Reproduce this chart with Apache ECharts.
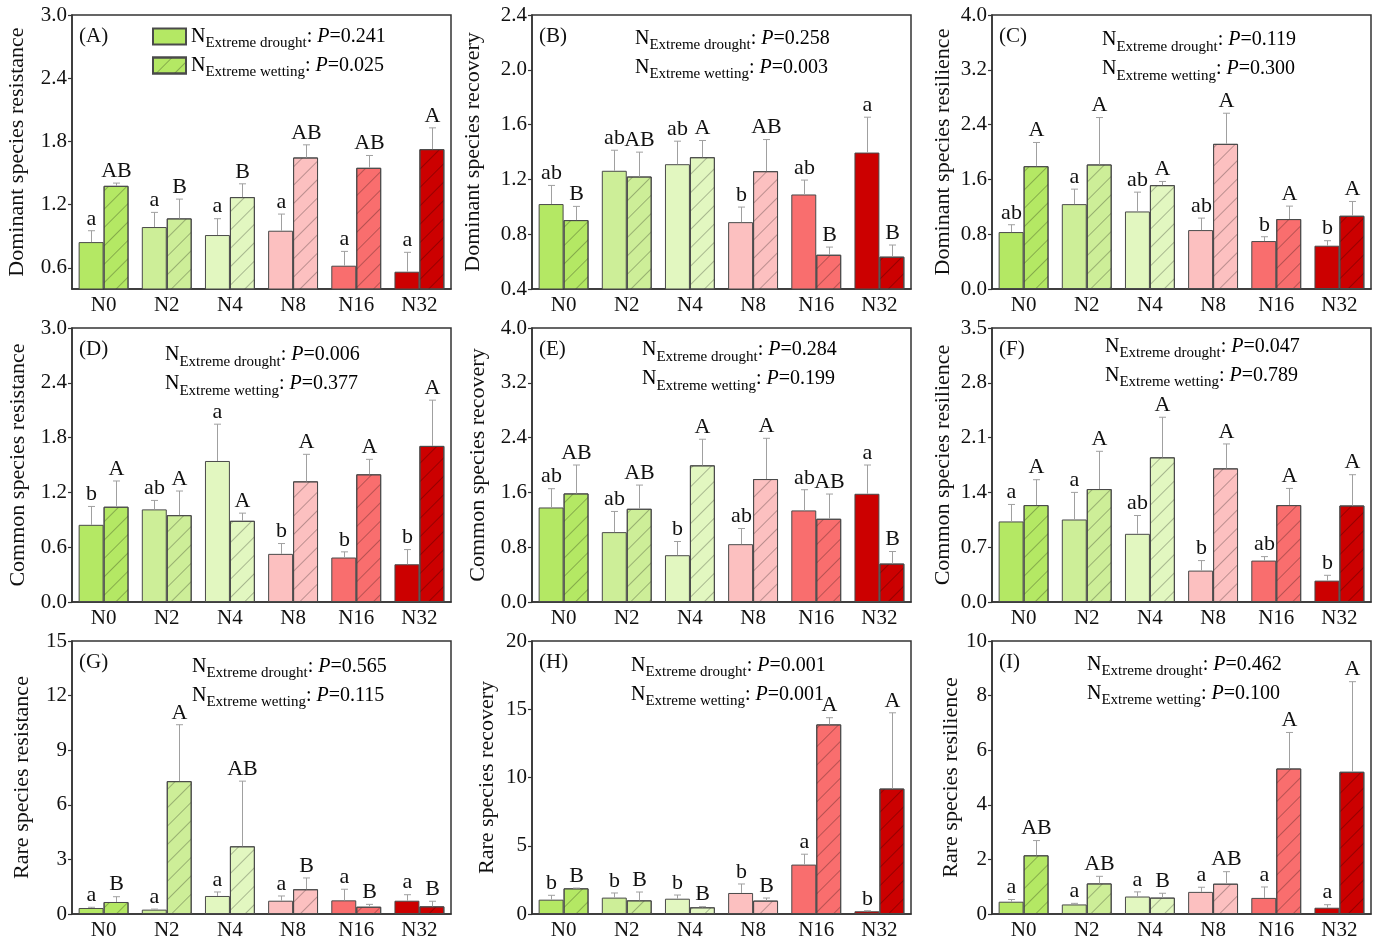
<!DOCTYPE html>
<html>
<head>
<meta charset="utf-8">
<script src="https://cdn.jsdelivr.net/npm/echarts@6/dist/echarts.min.js"></script>
<style>html,body{margin:0;padding:0;background:#fff}#chart{width:1384px;height:943px}</style>
</head>
<body>
<div id="chart"></div>
<script>
// ---------------- data ----------------
const categories = ['N0', 'N2', 'N4', 'N8', 'N16', 'N32'];

const A_droughtMean = [0.845, 0.988, 0.912, 0.953, 0.621, 0.564];
const A_droughtSE   = [0.108, 0.139, 0.155, 0.158, 0.136, 0.184];
const A_wettingMean = [1.379, 1.070, 1.272, 1.648, 1.550, 1.727];
const A_wettingSE   = [0.026, 0.183, 0.126, 0.120, 0.117, 0.202];
const A_droughtLetters = ['a', 'a', 'a', 'a', 'a', 'a'];
const A_wettingLetters = ['AB', 'B', 'B', 'AB', 'AB', 'A'];

const B_droughtMean = [1.020, 1.263, 1.311, 0.888, 1.090, 1.396];
const B_droughtSE   = [0.136, 0.150, 0.168, 0.110, 0.105, 0.258];
const B_wettingMean = [0.903, 1.221, 1.362, 1.260, 0.650, 0.636];
const B_wettingSE   = [0.100, 0.178, 0.122, 0.231, 0.056, 0.085];
const B_droughtLetters = ['ab', 'ab', 'ab', 'b', 'ab', 'a'];
const B_wettingLetters = ['B', 'AB', 'A', 'AB', 'B', 'B'];

const C_droughtMean = [0.831, 1.239, 1.132, 0.860, 0.700, 0.632];
const C_droughtSE   = [0.107, 0.219, 0.282, 0.175, 0.063, 0.073];
const C_wettingMean = [1.793, 1.818, 1.516, 2.119, 1.021, 1.069];
const C_wettingSE   = [0.346, 0.685, 0.054, 0.447, 0.189, 0.209];
const C_droughtLetters = ['ab', 'a', 'ab', 'ab', 'b', 'b'];
const C_wettingLetters = ['A', 'A', 'A', 'A', 'A', 'A'];

const D_droughtMean = [0.845, 1.014, 1.544, 0.527, 0.487, 0.413];
const D_droughtSE   = [0.201, 0.098, 0.403, 0.113, 0.062, 0.161];
const D_wettingMean = [1.043, 0.951, 0.889, 1.321, 1.398, 1.709];
const D_wettingSE   = [0.282, 0.264, 0.084, 0.296, 0.164, 0.501];
const D_droughtLetters = ['b', 'ab', 'a', 'b', 'b', 'b'];
const D_wettingLetters = ['A', 'A', 'A', 'A', 'A', 'A'];

const E_droughtMean = [1.380, 1.020, 0.683, 0.844, 1.337, 1.580];
const E_droughtSE   = [0.274, 0.302, 0.200, 0.229, 0.302, 0.420];
const E_wettingMean = [1.585, 1.361, 1.995, 1.795, 1.215, 0.561];
const E_wettingSE   = [0.415, 0.346, 0.381, 0.595, 0.361, 0.176];
const E_droughtLetters = ['ab', 'ab', 'b', 'ab', 'ab', 'a'];
const E_wettingLetters = ['AB', 'AB', 'A', 'A', 'AB', 'B'];

const F_droughtMean = [1.029, 1.054, 0.871, 0.401, 0.529, 0.273];
const F_droughtSE   = [0.217, 0.346, 0.234, 0.128, 0.051, 0.068];
const F_wettingMean = [1.238, 1.443, 1.848, 1.707, 1.238, 1.233];
const F_wettingSE   = [0.324, 0.482, 0.512, 0.312, 0.213, 0.393];
const F_droughtLetters = ['a', 'a', 'ab', 'b', 'ab', 'b'];
const F_wettingLetters = ['A', 'A', 'A', 'A', 'A', 'A'];

const G_droughtMean = [0.33, 0.24, 0.99, 0.73, 0.75, 0.73];
const G_droughtSE   = [0.04, 0.03, 0.22, 0.26, 0.61, 0.33];
const G_wettingMean = [0.66, 7.30, 3.72, 1.36, 0.40, 0.42];
const G_wettingSE   = [0.29, 3.10, 3.58, 0.62, 0.13, 0.28];
const G_droughtLetters = ['a', 'a', 'a', 'a', 'a', 'a'];
const G_wettingLetters = ['B', 'A', 'AB', 'B', 'B', 'B'];

const H_droughtMean = [1.05, 1.20, 1.12, 1.54, 3.62, 0.20];
const H_droughtSE   = [0.32, 0.34, 0.27, 0.66, 0.76, 0.04];
const H_wettingMean = [1.88, 1.00, 0.49, 0.98, 13.89, 9.19];
const H_wettingSE   = [0.02, 0.61, 0.05, 0.19, 0.49, 5.55];
const H_droughtLetters = ['b', 'b', 'b', 'b', 'a', 'b'];
const H_wettingLetters = ['B', 'B', 'B', 'B', 'A', 'A'];

const I_droughtMean = [0.45, 0.35, 0.64, 0.81, 0.59, 0.23];
const I_droughtSE   = [0.08, 0.04, 0.17, 0.17, 0.40, 0.11];
const I_wettingMean = [2.15, 1.12, 0.60, 1.11, 5.33, 5.21];
const I_wettingSE   = [0.54, 0.26, 0.16, 0.44, 1.32, 3.30];
const I_droughtLetters = ['a', 'a', 'a', 'a', 'a', 'a'];
const I_wettingLetters = ['AB', 'AB', 'B', 'AB', 'A', 'A'];

const panelLabels = ['(A)', '(B)', '(C)', '(D)', '(E)', '(F)', '(G)', '(H)', '(I)'];
const yAxisNames = [
  'Dominant species resistance', 'Dominant species recovery', 'Dominant species resilience',
  'Common species resistance', 'Common species recovery', 'Common species resilience',
  'Rare species resistance', 'Rare species recovery', 'Rare species resilience'
];
const pDrought = ['0.241', '0.258', '0.119', '0.006', '0.284', '0.047', '0.565', '0.001', '0.462'];
const pWetting = ['0.025', '0.003', '0.300', '0.377', '0.199', '0.789', '0.115', '0.001', '0.100'];
const yMin  = [0.4, 0.4, 0, 0, 0, 0, 0, 0, 0];
const yMax  = [3.0, 2.4, 4.0, 3.0, 4.0, 3.5, 15, 20, 10];
const yStep = [0.6, 0.4, 0.8, 0.6, 0.8, 0.7, 3, 5, 2];
const yDecimals = [1, 1, 1, 1, 1, 1, 0, 0, 0];
const seriesNames = ['Extreme drought', 'Extreme wetting'];

// ---------------- styling ----------------
const FONT = '"Liberation Serif", "Times New Roman", serif';
const barColors = ['#b4e864', '#cdee98', '#e2f7c0', '#fcc0c0', '#f96e6e', '#cc0000'];
const BAR_FRAC = 0.395;
const colLeft = [72, 532, 992];
const rowTop = [15, 328, 641];
const gridW = 379, gridH = 274;
const nameGaps = [44, 48, 38, 43, 43, 38, 39, 34, 28];
const pTextX = [null, 635, 1102, 165, 642, 1105, 192, 631, 1087];
const pTextY = [null, 38.5, 40, 355, 350, 346.5, 666.5, 665.5, 664.5];

const hatch = {
  symbol: 'rect', symbolSize: 1,
  dashArrayX: [1, 0], dashArrayY: [1, 12],
  rotation: -Math.PI / 4,
  color: 'rgba(0,0,0,0.26)'
};

const allData = {
  A: [A_droughtMean, A_droughtSE, A_wettingMean, A_wettingSE, A_droughtLetters, A_wettingLetters],
  B: [B_droughtMean, B_droughtSE, B_wettingMean, B_wettingSE, B_droughtLetters, B_wettingLetters],
  C: [C_droughtMean, C_droughtSE, C_wettingMean, C_wettingSE, C_droughtLetters, C_wettingLetters],
  D: [D_droughtMean, D_droughtSE, D_wettingMean, D_wettingSE, D_droughtLetters, D_wettingLetters],
  E: [E_droughtMean, E_droughtSE, E_wettingMean, E_wettingSE, E_droughtLetters, E_wettingLetters],
  F: [F_droughtMean, F_droughtSE, F_wettingMean, F_wettingSE, F_droughtLetters, F_wettingLetters],
  G: [G_droughtMean, G_droughtSE, G_wettingMean, G_wettingSE, G_droughtLetters, G_wettingLetters],
  H: [H_droughtMean, H_droughtSE, H_wettingMean, H_wettingSE, H_droughtLetters, H_wettingLetters],
  I: [I_droughtMean, I_droughtSE, I_wettingMean, I_wettingSE, I_droughtLetters, I_wettingLetters]
};
const keys = ['A', 'B', 'C', 'D', 'E', 'F', 'G', 'H', 'I'];

const richP = {
  n: { fontSize: 20, fontFamily: FONT, color: '#000', lineHeight: 22 },
  s: { fontSize: 15, fontFamily: FONT, color: '#000', lineHeight: 15, padding: [14, 0, 0, 0] },
  i: { fontSize: 20, fontFamily: FONT, color: '#000', fontStyle: 'italic', lineHeight: 22 }
};
function pLine(sub, p) {
  return '{n|N}{s|Extreme ' + sub + '}{n|: }{i|P}{n|=' + p + '}';
}

function tickValues(min, max, step) {
  const out = [];
  let k = Math.ceil(min / step - 1e-9);
  while (k * step <= max + 1e-9) { out.push(Math.round(k * step * 1e6) / 1e6); k++; }
  return out;
}

const grids = [], xAxes = [], yAxes = [], series = [], graphics = [];

keys.forEach((key, g) => {
  const col = g % 3, row = Math.floor(g / 3);
  const [dM, dS, wM, wS, dL, wL] = allData[key];
  grids.push({ left: colLeft[col], top: rowTop[row], width: gridW, height: row === 2 ? 273 : gridH,
    show: true, borderColor: '#333', borderWidth: 1.5, backgroundColor: 'transparent' });
  xAxes.push({
    type: 'category', gridIndex: g, data: categories,
    axisTick: { show: false },
    axisLine: { lineStyle: { color: '#333', width: 1.5 } },
    axisLabel: { fontSize: 21, fontFamily: FONT, color: '#111', margin: 6 }
  });
  const ticks = tickValues(yMin[g], yMax[g], yStep[g]);
  const dec = yDecimals[g];
  yAxes.push({
    type: 'value', gridIndex: g, min: yMin[g], max: yMax[g],
    interval: g === 0 ? 0.2 : yStep[g],
    splitLine: { show: false },
    axisLine: { show: true, lineStyle: { color: '#333', width: 1.5 } },
    axisTick: { show: true, inside: false, length: 4, lineStyle: { color: '#333', width: 1.2 }, customValues: ticks },
    axisLabel: { fontSize: 21, fontFamily: FONT, color: '#111', margin: 5, customValues: ticks,
      formatter: v => Number(v).toFixed(dec) },
    name: yAxisNames[g], nameLocation: 'middle', nameGap: nameGaps[g],
    nameTextStyle: { fontSize: 22, fontFamily: FONT, color: '#111' }
  });

  const mk = (means, isWet) => ({
    type: 'bar', name: seriesNames[isWet ? 1 : 0], xAxisIndex: g, yAxisIndex: g,
    barWidth: (BAR_FRAC * 100) + '%', barGap: '0%',
    itemStyle: Object.assign({ color: barColors[0], borderColor: '#4a4a4a', borderWidth: 1 }, isWet ? { decal: hatch } : {}),
    data: means.map((v, i) => ({ value: v,
      itemStyle: Object.assign({ color: barColors[i], borderColor: '#4a4a4a', borderWidth: 1 }, isWet ? { decal: hatch } : {}) })),
    silent: true
  });
  series.push(mk(dM, false));
  series.push(mk(wM, true));

  const mkErr = (means, ses, letters, side) => ({
    type: 'custom', xAxisIndex: g, yAxisIndex: g, z: 5, silent: true, clip: false,
    data: means.map((m, i) => [i, m, m + ses[i]]),
    encode: { x: 0, y: [1, 2] },
    renderItem: (params, api) => {
      const i = api.value(0);
      const bw = api.size([1, 0])[0];
      const off = side * bw * BAR_FRAC / 2;
      const base = api.coord([i, api.value(1)]);
      const top = api.coord([i, api.value(2)]);
      const x = Math.round(base[0] + off) + 0.5;
      const cap = 3.5;
      return { type: 'group', children: [
        { type: 'line', shape: { x1: x, y1: base[1], x2: x, y2: top[1] }, style: { stroke: '#a0a0a0', lineWidth: 1 } },
        { type: 'line', shape: { x1: x - cap, y1: top[1], x2: x + cap, y2: top[1] }, style: { stroke: '#a0a0a0', lineWidth: 1 } },
        { type: 'text', x: x, y: top[1] - 1, style: { text: letters[params.dataIndex], fill: '#111',
          fontSize: 22, fontFamily: FONT, align: 'center', verticalAlign: 'bottom' } }
      ] };
    }
  });
  series.push(mkErr(dM, dS, dL, -1));
  series.push(mkErr(wM, wS, wL, 1));

  graphics.push({ type: 'text', left: colLeft[col] + 7, top: rowTop[row] + 11, z: 10,
    style: { text: panelLabels[g], fontSize: 21, fontFamily: FONT, fill: '#111' } });
  if (g > 0) {
    graphics.push({ type: 'text', x: pTextX[g], y: pTextY[g], z: 10,
      style: { text: pLine('drought', pDrought[g]), rich: richP, verticalAlign: 'middle', align: 'left' } });
    graphics.push({ type: 'text', x: pTextX[g], y: pTextY[g] + 29, z: 10,
      style: { text: pLine('wetting', pWetting[g]), rich: richP, verticalAlign: 'middle', align: 'left' } });
  }
});

const chart = echarts.init(document.getElementById('chart'), null, { renderer: 'canvas' });
chart.setOption({
  animation: false,
  backgroundColor: '#fff',
  textStyle: { fontFamily: FONT },
  grid: grids, xAxis: xAxes, yAxis: yAxes, series: series,
  legend: {
    data: seriesNames, left: 152, top: 22, padding: 0, orient: 'vertical', icon: 'rect',
    itemWidth: 33, itemHeight: 16, itemGap: 0, selectedMode: false,
    formatter: name => name === seriesNames[0] ? pLine('drought', pDrought[0]) : pLine('wetting', pWetting[0]),
    textStyle: { rich: richP, padding: [0, 0, 0, 0] }
  },
  graphic: graphics
});
</script>
</body>
</html>
